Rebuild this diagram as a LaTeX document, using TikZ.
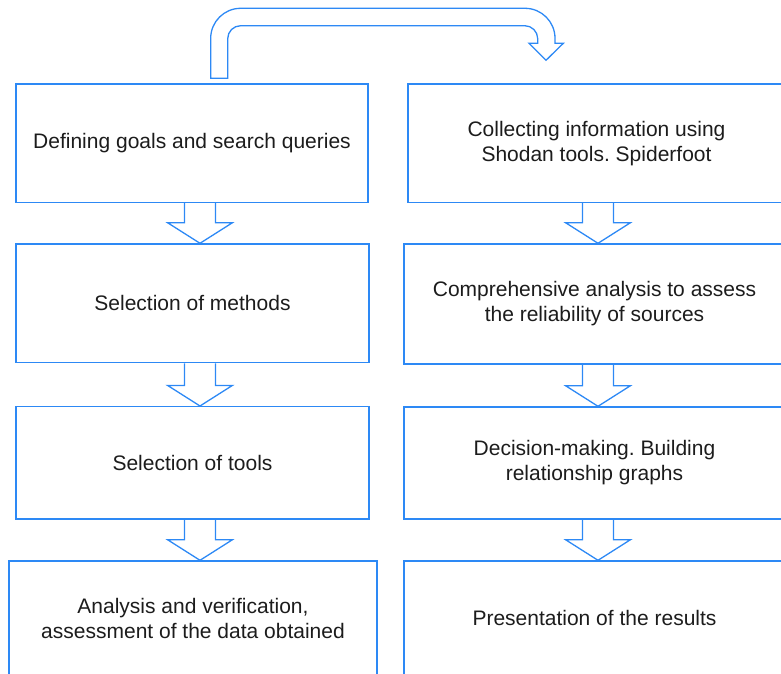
\documentclass[tikz,border=0pt]{standalone}
\usepackage{fontspec}
\setmainfont{Liberation Sans}
\usetikzlibrary{calc}
\frenchspacing
\definecolor{lineblue}{RGB}{45,137,245}
\definecolor{txt}{RGB}{28,28,28}
\tikzset{
  box/.style={draw=lineblue, line width=1.4pt, rectangle, inner sep=0pt,
    align=center, text=txt, font=\fontsize{21}{25}\selectfont\frenchspacing},
  blk/.style={draw=lineblue, line width=1.3pt, line join=miter},
}
\newcommand\blockarrow[3]{%
  \draw[blk] let \p1=(#2.south), \p2=(#3.north) in
    (#1pt-15.5pt,\y1) -- (#1pt-15.5pt,\y2+20.5pt) -- (#1pt-32.3pt,\y2+20.5pt)
    -- (#1pt,\y2) -- (#1pt+32.3pt,\y2+20.5pt) -- (#1pt+15.5pt,\y2+20.5pt)
    -- (#1pt+15.5pt,\y1);}
\begin{document}
\begin{tikzpicture}[x=1pt,y=1pt]
\useasboundingbox (0,0) rectangle (781,673);
\clip (0,0) rectangle (781,673);
% left column
\node[box, minimum width=352, minimum height=118.5] (L1) at (192,529.75)
  {Defining goals and search queries};
\node[box, minimum width=353, minimum height=118.7] (L2) at (192.5,369.65)
  {Selection of methods};
\node[box, minimum width=353, minimum height=112.3] (L3) at (192.5,210.15)
  {Selection of tools};
\node[box, minimum width=368, minimum height=114] (L4) at (193,55)
  {Analysis and verification,\\assessment of the data obtained};
% right column
\node[box, minimum width=377, minimum height=118.5] (R1) at (596.5,529.75)
  {\raisebox{-2pt}{Collecting information using}\\\raisebox{-2pt}{Shodan tools. Spiderfoot}};
\node[box, minimum width=381, minimum height=120] (R2) at (594.5,369)
  {\raisebox{-1.5pt}{Comprehensive analysis to assess}\\\raisebox{-1.5pt}{the reliability of sources}};
\node[box, minimum width=381, minimum height=112] (R3) at (594.5,210)
  {\raisebox{-1.5pt}{Decision-making. Building}\\\raisebox{-1.5pt}{relationship graphs}};
\node[box, minimum width=381, minimum height=114] (R4) at (594.5,55)
  {Presentation of the results};
% block arrows
\blockarrow{200}{L1}{L2}
\blockarrow{200}{L2}{L3}
\blockarrow{200}{L3}{L4}
\blockarrow{598}{R1}{R2}
\blockarrow{598}{R2}{R3}
\blockarrow{598}{R3}{R4}
% curved arrow from left column to right column
\draw[blk]
  (210.7,594.7) -- (210.7,634.7)
  arc[start angle=180, end angle=90, radius=30] -- (525,664.7)
  arc[start angle=90, end angle=0, radius=30] -- (555,629.7)
  -- (563.3,629.7) -- (546,612.7) -- (529,629.7) -- (537.7,629.7)
  -- (537.7,634.3)
  arc[start angle=0, end angle=90, radius=13] -- (240.7,647.3)
  arc[start angle=90, end angle=180, radius=13] -- (227.7,594.7) -- cycle;
\end{tikzpicture}
\end{document}
